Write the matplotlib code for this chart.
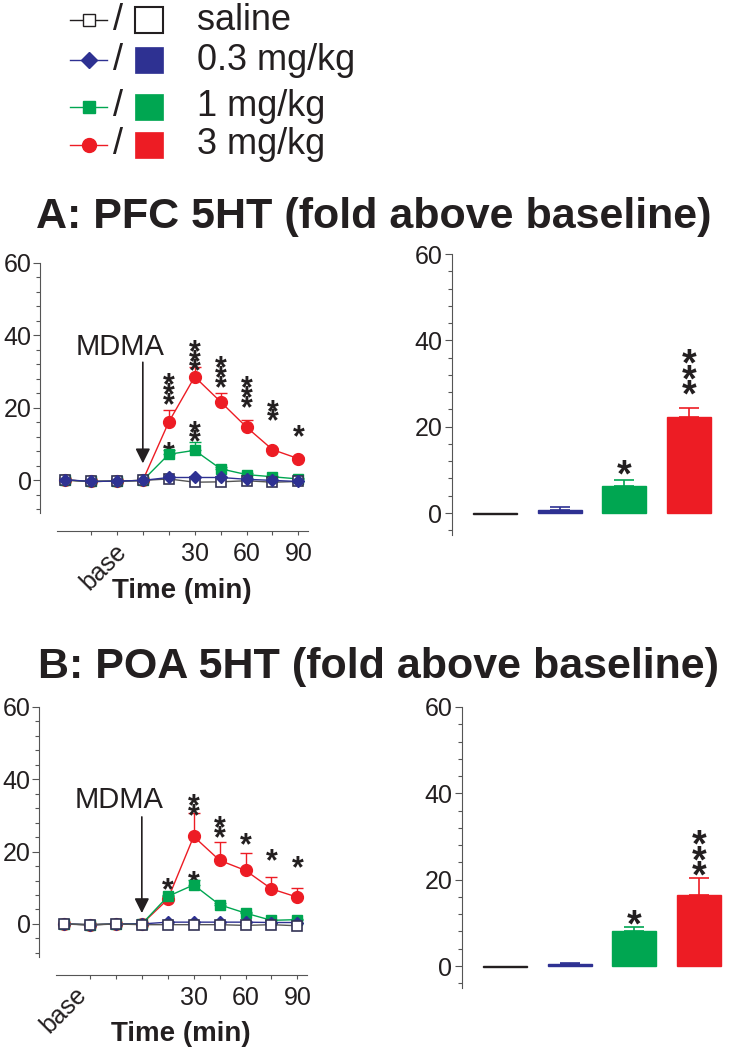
import matplotlib
matplotlib.use("Agg")
import matplotlib.pyplot as plt
import matplotlib.transforms as mtransforms
from matplotlib.lines import Line2D
from matplotlib.patches import Rectangle

plt.rcParams['font.family'] = ['Liberation Sans', 'DejaVu Sans']

# ---- data ----
time = [-45, -30, -15, 0, 15, 30, 45, 60, 75, 90]
groups = ["saline", "0.3 mg/kg", "1 mg/kg", "3 mg/kg"]
colors = ["white", "#2E3192", "#00A651", "#ED1C24"]

pfc_saline = [0.1, -0.3, -0.2, 0.0, 0.4, -0.5, -0.4, -0.1, -0.5, -0.3]
pfc_low = [0.2, -0.3, -0.2, 0.0, 0.8, 0.8, 0.8, 0.3, 0.0, -0.3]
pfc_mid = [0.1, -0.3, -0.2, 0.0, 7.2, 8.3, 3.2, 1.6, 1.0, 0.4]
pfc_high = [0.1, -0.3, -0.2, 0.0, 16.1, 28.6, 21.7, 14.7, 8.5, 6.0]
pfc_mid_err = [0, 0, 0, 0, 1.3, 2.4, 0.6, 0.4, 0.3, 0.2]
pfc_high_err = [0, 0, 0, 0, 3.3, 2.7, 2.5, 1.9, 0.5, 0.4]

poa_saline = [0.0, -0.3, 0.0, -0.2, -0.2, -0.2, -0.2, -0.4, -0.2, -0.5]
poa_low = [0.0, -0.2, 0.0, 0.0, 0.5, 0.5, 0.5, 0.5, 0.4, 0.4]
poa_mid = [0.0, -0.2, 0.0, 0.0, 7.6, 10.8, 5.3, 3.0, 1.0, 1.2]
poa_high = [0.0, -0.2, 0.0, 0.0, 6.8, 24.2, 17.6, 14.8, 9.7, 7.4]
poa_mid_err = [0, 0, 0, 0, 0.5, 1.4, 0.5, 0.4, 0.2, 0.2]
poa_high_err = [0, 0, 0, 0, 0.5, 6.6, 5.1, 4.8, 3.2, 2.5]

pfc_bar = [-0.2, 0.8, 6.3, 22.3]
pfc_bar_err = [0.0, 0.5, 1.4, 2.1]
poa_bar = [-0.2, 0.5, 8.2, 16.5]
poa_bar_err = [0.0, 0.2, 0.8, 3.8]

# significance stars: (x, number of stars, y of top star centre)
pfc_stars = [(15, 3, 29.0), (30, 3, 38.2), (45, 3, 33.6), (60, 3, 28.1),
             (75, 2, 21.7), (90, 1, 14.7), (15, 1, 10.1), (30, 2, 15.9)]
poa_stars = [(15, 1, 12.2), (30, 2, 35.2), (45, 2, 29.2), (60, 1, 24.6),
             (75, 1, 20.0), (90, 1, 18.2), (30, 1, 14.0)]
pfc_bar_stars = [(3, 1, 11.6), (4, 3, 37.1)]
poa_bar_stars = [(3, 1, 12.3), (4, 3, 30.8)]

W, H = 730, 1049
fig = plt.figure(figsize=(W / 100, H / 100), dpi=100)


def rect(l, t, w, h):
    return [l / W, 1 - (t + h) / H, w / W, h / H]


def stars(ax, items, size, spacing):
    # one text per stack, lines squeezed together like the original
    tr = mtransforms.offset_copy(ax.transData, fig=fig, x=0,
                                 y=0.13 * size, units='points')
    for x, n, ytop in items:
        ax.text(x, ytop, "\n".join(["*"] * n), transform=tr, fontsize=size,
                fontweight='bold', ha='center', va='top', ma='center',
                linespacing=spacing, color='#231F20')


def time_panel(ax, sal, low, mid, high, mid_err, high_err, saline_top,
               mdma_y, arrow_from, arrow_to, base_x):
    ax.errorbar(time, high, yerr=[[0] * 10, high_err], color=colors[3],
                lw=1, capsize=4, capthick=1, marker='o', ms=8.5,
                mec=colors[3], zorder=2)
    ax.errorbar(time, mid, yerr=[[0] * 10, mid_err], color=colors[2],
                lw=1, capsize=4, capthick=1, marker='s', ms=7.5,
                mec=colors[2], zorder=3)
    z_sal, z_low = (5, 4) if saline_top else (4, 5)
    ax.plot(time, sal, color='#555555', lw=1, marker='s', ms=7.5,
            mfc='white', mec='#333355', mew=1.2, zorder=z_sal)
    ax.plot(time, low, color=colors[1], lw=1, marker='D', ms=6,
            mec=colors[1], zorder=z_low)

    ax.set_xlim(-59.5, 95)
    ax.set_ylim(-9, 60)
    for s in ['top', 'right']:
        ax.spines[s].set_visible(False)
    ax.spines['left'].set_color('#555555')
    ax.spines['bottom'].set_color('#555555')
    ax.spines['bottom'].set_position(('outward', 13))
    ax.spines['bottom'].set_bounds(-49.5, 95.5)
    ax.set_yticks([0, 20, 40, 60])
    ax.set_yticks(range(-8, 60, 4), minor=True)
    ax.set_xticks([30, 60, 90])
    ax.set_xticks([-30, -15, 0, 15, 45, 75], minor=True)
    ax.tick_params(axis='y', which='major', length=5, width=0.8,
                   labelsize=18, pad=1, color='#555555', labelcolor='#231F20')
    ax.tick_params(axis='y', which='minor', length=3, width=0.8,
                   color='#555555')
    ax.tick_params(axis='x', which='both', length=3, width=0.8,
                   labelsize=18, pad=5, color='#555555', labelcolor='#231F20')

    ax.annotate('', xy=(0, arrow_to), xytext=(0, arrow_from),
                arrowprops=dict(arrowstyle='-|>', color='#231F20', lw=1.2,
                                mutation_scale=22, shrinkA=0, shrinkB=0))
    ax.text(-13, mdma_y, "MDMA", fontsize=21, ha='center', va='center',
            color='#231F20')
    xt = ax.get_xaxis_transform()
    ax.text(base_x, -0.215, "base", transform=xt, rotation=45, fontsize=18,
            ha='center', va='center', color='#231F20')
    ax.text(22.7, -0.31, "Time (min)", transform=xt, fontsize=20,
            fontweight='bold', ha='center', va='center', color='#231F20')


def bar_panel(ax, vals, errs, right_lim):
    pos = [1, 2, 3, 4]
    ax.bar(pos, vals, width=0.68, color=colors, edgecolor=['#231F20'] +
           colors[1:], linewidth=1, zorder=2)
    for p, v, e, c in zip(pos, vals, errs, colors):
        if e > 0:
            ax.errorbar([p], [v], yerr=[[0], [e]], color=c, lw=1.2,
                        capsize=7, capthick=1.2, fmt='none', zorder=1)
    ax.set_xlim(0.335, right_lim)
    ax.set_ylim(-5, 60)
    for s in ['top', 'right', 'bottom']:
        ax.spines[s].set_visible(False)
    ax.spines['left'].set_color('#555555')
    ax.set_xticks([])
    ax.set_yticks([0, 20, 40, 60])
    ax.set_yticks(range(-4, 60, 4), minor=True)
    ax.tick_params(axis='y', which='major', length=5, width=0.8,
                   labelsize=18, pad=2, color='#555555', labelcolor='#231F20')
    ax.tick_params(axis='y', which='minor', length=3, width=0.8,
                   color='#555555')


# ---- panel A ----
axA1 = fig.add_axes(rect(40, 263, 267, 250))
time_panel(axA1, pfc_saline, pfc_low, pfc_mid, pfc_high, pfc_mid_err,
           pfc_high_err, False, 36.8, 32.6, 4.7, -22.4)
stars(axA1, pfc_stars, 22, 0.12)

axA2 = fig.add_axes(rect(452, 254, 278, 280.6))
bar_panel(axA2, pfc_bar, pfc_bar_err, 0.335 + 278 / 64.67)
stars(axA2, pfc_bar_stars, 27, 0.26)

# ---- panel B ----
axB1 = fig.add_axes(rect(39, 707, 267, 249.5))
time_panel(axB1, poa_saline, poa_low, poa_mid, poa_high, poa_mid_err,
           poa_high_err, True, 34.3, 29.6, 3.0, -45)
stars(axB1, poa_stars, 22, 0.12)

axB2 = fig.add_axes(rect(462, 707, 268, 280.6))
bar_panel(axB2, poa_bar, poa_bar_err, 0.335 + 268 / 64.67)
stars(axB2, poa_bar_stars, 27, 0.28)

# ---- titles ----
fig.text(374 / W, 1 - 228 / H, "A: PFC 5HT (fold above baseline)",
         fontsize=31, fontweight='bold', ha='center', va='baseline',
         color='#231F20')
fig.text(378 / W, 1 - 678 / H, "B: POA 5HT (fold above baseline)",
         fontsize=31, fontweight='bold', ha='center', va='baseline',
         color='#231F20')

# ---- legend (drawn by hand) ----
rows_y = [20, 60, 107, 145]
markers = ['s', 'D', 's', 'o']
line_cols = ['#231F20', colors[1], colors[2], colors[3]]
for i, (lab, y) in enumerate(zip(groups, rows_y)):
    yf = 1 - y / H
    fig.add_artist(Line2D([70 / W, 107 / W], [yf, yf], color=line_cols[i],
                          lw=1, transform=fig.transFigure))
    fig.add_artist(Line2D([88.5 / W], [yf], marker=markers[i],
                          ms=8.5 if i != 3 else 10, mfc=colors[i],
                          mec=line_cols[i], mew=1, ls='none',
                          transform=fig.transFigure))
    fig.text(118 / W, yf, "/", fontsize=26, ha='center', va='center',
             color='#231F20')
    fig.add_artist(Rectangle((135 / W, 1 - (y + 13) / H), 28 / W, 26 / H,
                             facecolor=colors[i], edgecolor=line_cols[i],
                             lw=1.5 if i == 0 else 0.5,
                             transform=fig.transFigure))
    fig.text(197 / W, yf, lab, fontsize=26, ha='left', va='center',
             color='#231F20')

fig.savefig("out.png", dpi=100)
